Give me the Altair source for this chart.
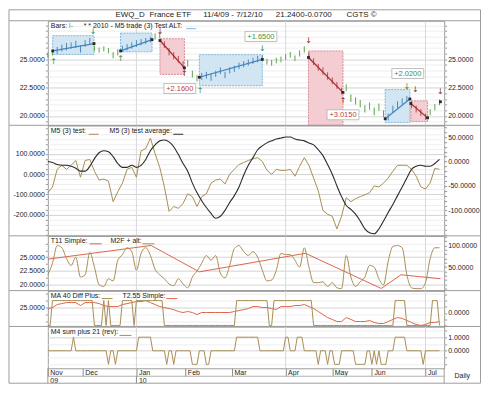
import json
import altair as alt
import pandas as pd

FONT = "Liberation Sans"
ARROW_FONT = "DejaVu Sans"
W = 398
H1, H2, H3, H4, H5 = 105, 111, 55, 36, 42
LC, RC = 39, 36.5
BORDER = "#9c9c9c"
TXT = "#222222"
TAN = "#a88d55"
RED = "#d9674c"
BLACK = "#2a2a2a"
GREEN = "#5fa347"
LONG_BAR = "#4f86b8"
SHORT_BAR = "#b84a50"
LONG_FILL = "#d2e5f3"
LONG_EDGE = "#86b6d8"
SHORT_FILL = "#f4cdd2"
SHORT_EDGE = "#d88e98"
LONG_LINE = "#3f86bd"
SHORT_LINE = "#a52a2a"
ARROW_LONG = "#2f8a3a"
ARROW_SHORT = "#8c1f1f"
LABEL_LONG = "#3d8f3d"
LABEL_SHORT = "#b5443c"

# ---------------- data ----------------
month_idx = [0, 15, 38, 59, 79, 102, 122, 139, 162]
month_names = ["Nov", "Dec", "Jan", "Feb", "Mar", "Apr", "May", "Jun", "Jul"]
year_names = ["09", "", "10", "", "", "", "", "", ""]
quarter_idx = [38, 102, 162]

day = list(range(0, 170, 2))

bar_low = [25.15, 25.35, 25.5, 25.7, 25.8, 25.95, 26.0, 25.6, 26.1, 26.3,
           25.75, 25.6, 25.7, 25.55, 25.1, 25.35, 25.65, 25.8, 25.95, 26.1,
           26.25, 26.35, 26.5, 26.75, 26.85, 26.0, 25.35, 25.0, 24.7, 24.2,
           24.35, 23.4, 23.05, 23.2, 23.3, 23.1, 23.45, 23.7, 23.35, 23.75,
           23.9, 24.15, 24.3, 24.45, 24.6, 24.75, 24.85, 24.55, 24.45, 24.65,
           24.75, 24.95, 25.15, 24.85, 25.25, 25.6, 25.0, 24.5, 24.0, 23.65,
           23.2, 22.8, 22.4, 21.9, 22.2, 21.25, 21.0, 20.75, 20.3, 20.55,
           20.05, 20.45, 19.9, 19.6, 20.3, 20.7, 21.0, 21.25, 20.7, 20.3,
           20.0, 19.65, 20.05, 20.5, 20.95]
bar_high = [25.6, 25.85, 26.1, 26.3, 26.45, 26.5, 26.65, 26.25, 26.7, 26.9,
            26.2, 26.05, 26.15, 26.0, 25.65, 25.9, 26.2, 26.35, 26.5, 26.7,
            26.8, 26.9, 27.0, 27.3, 27.35, 26.6, 26.0, 25.65, 25.3, 24.85,
            24.95, 24.0, 23.6, 23.8, 23.9, 23.75, 24.0, 24.3, 23.9, 24.3,
            24.45, 24.7, 24.85, 25.0, 25.15, 25.3, 25.35, 25.05, 24.95, 25.15,
            25.25, 25.45, 25.65, 25.35, 25.8, 26.15, 25.6, 25.1, 24.6, 24.3,
            23.85, 23.4, 23.0, 22.5, 22.8, 21.9, 21.65, 21.4, 20.95, 21.2,
            20.75, 21.1, 20.5, 20.2, 20.9, 21.3, 21.55, 21.75, 21.3, 20.9,
            20.6, 20.2, 20.6, 21.05, 21.45]

trade_side = ["L", "L", "S", "L", "S", "L", "S"]
trade_start = [2.1, 31.2, 48.1, 65, 111.8, 144.7, 155.7]
trade_end = [19.8, 44.7, 58.6, 92, 126.6, 155.3, 162.9]
box_low = [25.44, 25.67, 23.67, 22.67, 19.17, 19.42, 19.5]
box_high = [27.1, 27.33, 26.83, 25.42, 25.75, 22.33, 21.33]
entry_px = [25.75, 25.75, 26.67, 23.42, 25.17, 19.75, 21.1]
exit_px = [26.4, 26.75, 24.25, 25.0, 22.08, 21.5, 19.83]
last_mark_d = [168.4]
last_mark_p = [21.25]

arrow_d = [2.5, 19.4, 31.2, 48.1, 58.6, 65.3, 92, 111.8, 126.6, 154.0, 157.6, 168.4]
arrow_p = [24.8, 27.4, 25.0, 27.4, 23.75, 22.2, 25.9, 26.6, 21.3, 22.6, 22.3, 22.1]
arrow_dir = ["up", "down", "up", "down", "up", "up", "down", "down", "up", "down", "down", "down"]
arrow_side = ["L", "L", "L", "S", "S", "L", "L", "S", "S", "L", "S", "S"]

gain_text = ["+2.1600", "+1.6500", "+3.0150", "+2.0200"]
gain_d = [56.6, 91.4, 126.6, 154.4]
gain_p = [22.42, 27.02, 20.1, 23.75]
gain_side = ["S", "L", "S", "L"]

m5_test = [-92, -63, 24, 44, 24, 44, 68, -15, 68, 73,
           15, -29, -24, -34, -136, -87, -44, 24, 34, -15,
           116, 126, 179, 102, 34, -63, -184, -160, -169, -145,
           -97, -111, -160, -111, -97, -44, -29, -24, -48, 0,
           24, 48, 58, 68, 77, 82, 63, 19, 0, 24,
           19, 19, 24, -10, 39, 82, 44, -19, -82, -179,
           -198, -208, -271, -208, -116, -136, -121, -111, -102, -92,
           -58, -63, -44, -19, 15, 44, 44, 44, 24, -10,
           -63, -73, -44, 29, 24]
m5_avg = [63, 58, 48, 44, 44, 39, 29, 15, 15, 39,
          77, 106, 116, 111, 87, 53, 34, 34, 44, 34,
          44, 73, 116, 145, 165, 169, 160, 136, 97, 53,
          15, -44, -92, -131, -165, -194, -218, -208, -179, -140,
          -106, -63, -5, 44, 82, 121, 140, 155, 165, 174,
          179, 184, 184, 174, 169, 165, 155, 145, 121, 92,
          48, 0, -58, -111, -155, -174, -198, -232, -271, -290,
          -295, -271, -232, -189, -150, -106, -63, -19, 24, 39,
          44, 39, 39, 53, 73]

t11 = [32, 59, 100, 95, 70, 54, 73, 27, 32, 84,
       50, 9, 5, 23, 18, 66, 79, 95, 86, 43,
       82, 95, 77, 45, 32, 23, 11, 7, 23, 11,
       2, 27, 41, 59, 77, 66, 77, 36, 25, 54,
       93, 100, 86, 77, 86, 73, 43, 18, 20, 43,
       82, 79, 79, 66, 50, 95, 50, 14, 14, 16,
       5, 14, 2, 0, 77, 27, 5, 16, 27, 54,
       50, 23, 9, 64, 98, 100, 95, 32, 2, 0,
       0, 14, 70, 95, 95]
m2f_d = [0, 44.3, 65, 110.5, 143, 151.5, 168.4]
m2f_p = [24.64, 27.14, 22.32, 25.71, 19.29, 21.79, 21.07]

t255 = [24.82, 25.0, 25.54, 25.71, 25.89, 25.89, 25.89, 25.36, 25.89, 25.89,
        25.89, 25.71, 25.36, 25.18, 25.18, 25.18, 25.54, 25.71, 25.89, 26.07,
        26.07, 26.25, 25.89, 25.54, 25.18, 25.0, 24.82, 24.64, 24.29, 24.11,
        24.29, 24.11, 23.75, 24.11, 24.11, 24.11, 24.11, 24.11, 24.11, 24.11,
        24.29, 24.46, 24.64, 24.82, 25.18, 25.18, 25.0, 25.0, 24.82, 24.64,
        25.18, 25.18, 25.18, 25.36, 25.36, 25.54, 25.18, 24.82, 24.29, 23.75,
        23.21, 22.86, 22.5, 22.5, 23.21, 22.86, 22.5, 22.5, 22.5, 22.68,
        22.32, 22.14, 22.14, 22.5, 22.86, 23.21, 23.04, 22.68, 22.32, 21.96,
        21.79, 21.96, 22.32, 22.32, 22.5]

ma40_start = [0, 2, 20, 24, 25, 26, 27, 32, 37, 38, 50, 81, 95, 97, 114, 149, 154, 165, 168]
ma40_state = [-1, 1, -1, 1, -1, 1, -1, 1, -1, 1, -1, 1, -1, 1, -1, 1, -1, 1, -1]
m4_start = [0, 11, 12, 26, 27, 29, 30, 39, 45, 51, 52, 54, 55, 62, 65, 68, 70, 81, 91, 102,
            104, 107, 110, 116, 117, 120, 121, 123, 126, 132, 137, 139, 140, 141, 142, 143, 146, 149, 154, 161,
            162]
m4_state = [0, 1, 0, -1, 0, -1, 0, 1, 0, -1, 0, -1, 0, -1, 0, -1, 0, 1, 0, 1,
            0, 1, 0, -1, 0, -1, 0, -1, 0, -1, 0, -1, 0, -1, 0, -1, 0, 1, 0, -1,
            0]
LAST_DAY = 168

# ---------------- tables ----------------
def expand(starts, states, last):
    out, k = [], 0
    for d in range(last + 1):
        while k + 1 < len(starts) and starts[k + 1] <= d:
            k += 1
        out.append(states[k])
    return out


def zone(d):
    for s, a, b in zip(trade_side, trade_start, trade_end):
        if a <= d <= b:
            return LONG_BAR if s == "L" else SHORT_BAR
    return GREEN


bars_df = pd.DataFrame({"d": day, "lo": bar_low, "hi": bar_high,
                        "col": [zone(d) for d in day]})
trades_df = pd.DataFrame({
    "x0": trade_start, "x1": trade_end, "b0": box_low, "b1": box_high,
    "l0": entry_px, "l1": exit_px,
    "fill": [LONG_FILL if s == "L" else SHORT_FILL for s in trade_side],
    "edge": [LONG_EDGE if s == "L" else SHORT_EDGE for s in trade_side],
    "line": [LONG_LINE if s == "L" else SHORT_LINE for s in trade_side],
})
ends_df = pd.DataFrame({"d": trade_start + trade_end + last_mark_d,
                        "p": entry_px + exit_px + last_mark_p})
arrows_df = pd.DataFrame({
    "d": arrow_d, "p": arrow_p,
    "g": ["\u2191" if a == "up" else "\u2193" for a in arrow_dir],
    "c": [ARROW_LONG if s == "L" else ARROW_SHORT for s in arrow_side],
})
gain_df = pd.DataFrame({"d": gain_d, "p": gain_p, "t": gain_text,
                        "c": [LABEL_LONG if s == "L" else LABEL_SHORT for s in gain_side]})
osc_df = pd.DataFrame({"d": day, "m5": m5_test, "avg": m5_avg, "t11": t11, "t255": t255})
m2f_df = pd.DataFrame({"d": m2f_d, "p": m2f_p})
steps_df = pd.DataFrame({"d": list(range(LAST_DAY + 1)),
                         "ma40": expand(ma40_start, ma40_state, LAST_DAY),
                         "m4": expand(m4_start, m4_state, LAST_DAY)})
q_df = pd.DataFrame({"d": quarter_idx})
jan_df = pd.DataFrame({"d": [month_idx[2]]})

# ---------------- helpers ----------------
xsc = alt.Scale(domain=[0, 170], nice=False, zero=False)
X = alt.X("d:Q", scale=xsc, axis=None, title=None)

entries = [[m, y] if y else m for m, y in zip(month_names, year_names)]
x_expr = "%s[indexof(%s, datum.value)]" % (json.dumps(entries), json.dumps(month_idx))
x_axis = alt.Axis(orient="bottom", values=month_idx, labelExpr=x_expr, title=None, grid=False,
                  domain=False, tickSize=8, tickColor="#8a8a8a", labelAlign="left",
                  labelBaseline="top", labelPadding=-7.5, labelOffset=2, labelLineHeight=8,
                  labelOverlap=False, labelFlush=False, labelFont=FONT, labelFontSize=7,
                  labelColor=TXT)
XB = alt.X("d:Q", scale=xsc, axis=x_axis, title=None)


def ysc(lo, hi):
    return alt.Scale(domain=[lo, hi], nice=False, zero=False)


def yaxis(orient, ticks, labels, grid):
    test = "indexof(%s, datum.value) >= 0" % json.dumps(labels)
    kw = dict(orient=orient, values=ticks, title=None, grid=grid,
              labelExpr="%s ? replace(format(datum.value, '.4f'), '\u2212', '-') : ''" % test,
              labelOverlap=False, labelFlush=False, domain=False, tickSize=2.5, labelPadding=1,
              tickColor="#9a9a9a", labelFont=FONT, labelFontSize=7, labelColor=TXT)
    if grid:
        kw["gridColor"] = {"condition": {"test": test, "value": "#d4d4d4"}, "value": "#eeeeee"}
        kw["gridWidth"] = 1
    return alt.Axis(**kw)


def steps(a, b, s):
    out, v = [], a
    while v <= b + 1e-9:
        out.append(round(v, 4))
        v += s
    return out


def blank():
    return alt.Data(values=[{}])


def txt(s, x, y, color=TXT, size=7, align="left"):
    return alt.Chart(blank()).mark_text(text=s, align=align, baseline="middle", fontSize=size,
                                        font=FONT, color=color).encode(x=alt.value(x), y=alt.value(y))


def hline(x1, x2, y, color=BORDER, w=1):
    return alt.Chart(blank()).mark_rule(color=color, strokeWidth=w).encode(
        x=alt.value(x1), x2=alt.value(x2), y=alt.value(y))


def vline(x, y1, y2, color=BORDER, w=1):
    return alt.Chart(blank()).mark_rule(color=color, strokeWidth=w).encode(
        x=alt.value(x), y=alt.value(y1), y2=alt.value(y2))


def frame(top, bottom):
    return [hline(-LC, W + RC, 0), vline(-LC, top, bottom), vline(W + RC, top, bottom)]


def qrules(xdef=X):
    return alt.Chart(q_df).mark_rule(color="#d9d9d9", strokeWidth=1).encode(x=xdef)


def ghost(scale, axis, v):
    return alt.Chart(alt.Data(values=[{"v": v}])).mark_point(opacity=0).encode(
        y=alt.Y("v:Q", scale=scale, axis=axis, title=None))


# ---------------- panel 1: price ----------------
sc1 = ysc(19.17, 28.42)
t1 = steps(19.5, 28.0, 0.5)
ax1L = yaxis("left", t1, [20, 22.5, 25], True)
ax1R = yaxis("right", t1, [20, 22.5, 25], False)


def Y1(f):
    return alt.Y(f + ":Q", scale=sc1, axis=ax1L, title=None)


XT0 = alt.X("x0:Q", scale=xsc, axis=None, title=None)
p1_layers = [
    qrules(),
    alt.Chart(trades_df).mark_rect(strokeWidth=1, strokeDash=[2, 1]).encode(
        x=XT0, x2="x1:Q", y=Y1("b0"), y2="b1:Q",
        fill=alt.Fill("fill:N", scale=None), stroke=alt.Stroke("edge:N", scale=None)),
    alt.Chart(bars_df).mark_rule(strokeWidth=1).encode(
        x=X, y=Y1("lo"), y2="hi:Q", color=alt.Color("col:N", scale=None)),
    alt.Chart(trades_df).mark_rule(strokeWidth=1.2).encode(
        x=XT0, x2="x1:Q", y=Y1("l0"), y2="l1:Q", color=alt.Color("line:N", scale=None)),
    alt.Chart(ends_df).mark_square(size=8, opacity=1, color=BLACK).encode(x=X, y=Y1("p")),
    alt.Chart(arrows_df).mark_text(font=ARROW_FONT, fontSize=8, baseline="middle").encode(
        x=X, y=Y1("p"), text="g:N", color=alt.Color("c:N", scale=None)),
    alt.Chart(gain_df).mark_point(shape="M-1.6,-0.5H1.6V0.5H-1.6Z", size=400, filled=True,
                                  fill="white", stroke="#b0b0b0", strokeWidth=0.8,
                                  opacity=1).encode(x=X, y=Y1("p")),
    alt.Chart(gain_df).mark_text(font=FONT, fontSize=7.5, baseline="middle").encode(
        x=X, y=Y1("p"), text="t:N", color=alt.Color("c:N", scale=None)),
    txt("Bars:", 3, 5), txt("I-", 21, 5, GREEN),
    txt("* * 2010 - M5 trade (3) Test ALT:", 36, 5), hline(139, 149, 8, LONG_EDGE),
    hline(-LC, W + RC, -11),
    txt("EWQ_D", 68, -5.5, size=8), txt("France ETF", 102, -5.5, size=8),
    txt("11/4/09 - 7/12/10", 156, -5.5, size=8), txt("21.2400", 229, -5.5, size=8),
    txt("-0.0700", 258, -5.5, size=8), txt("CGTS \u00a9", 300, -5.5, size=8),
] + frame(-11, H1)
p1 = alt.layer(alt.layer(*p1_layers), ghost(sc1, ax1R, 25)).resolve_scale(
    y="independent").properties(width=W, height=H1)

# ---------------- panel 2: M5 ----------------
sc2L = ysc(-305, 242)
sc2R = ysc(-152, 74)
ax2L = yaxis("left", steps(-300, 225, 25), [-200, -100, 0, 100], True)
ax2R = yaxis("right", steps(-150, 70, 10), [-100, -50, 0, 50], False)


def Y2(f):
    return alt.Y(f + ":Q", scale=sc2L, axis=ax2L, title=None)


p2_layers = [
    qrules(),
    alt.Chart(osc_df).mark_line(color=TAN, strokeWidth=1).encode(x=X, y=Y2("m5")),
    alt.Chart(osc_df).mark_line(color=BLACK, strokeWidth=1.1, interpolate="monotone").encode(
        x=X, y=Y2("avg")),
    txt("M5 (3) test:", 3, 6), hline(41, 51, 9, TAN),
    txt("M5 (3) test average:", 62, 6), hline(126, 136, 9, BLACK),
] + frame(0, H2)
p2 = alt.layer(alt.layer(*p2_layers), ghost(sc2R, ax2R, 0)).resolve_scale(
    y="independent").properties(width=W, height=H2)

# ---------------- panel 3: T11 / M2F ----------------
sc3L = ysc(18.9, 28.9)
sc3R = ysc(-4.5, 122.7)
ax3L = yaxis("left", steps(20, 27.5, 1.25), [20, 22.5, 25], True)
ax3R = yaxis("right", steps(0, 120, 10), [50, 100], False)
p3_left = [
    qrules(),
    alt.Chart(m2f_df).mark_line(color=RED, strokeWidth=1).encode(
        x=X, y=alt.Y("p:Q", scale=sc3L, axis=ax3L, title=None)),
    txt("T11 Simple:", 3, 5), hline(42, 54, 8, RED),
    txt("M2F + alt:", 63, 5), hline(95, 107, 8, TAN),
] + frame(0, H3)
p3_right = alt.Chart(osc_df).mark_line(color=TAN, strokeWidth=1, interpolate="monotone").encode(
    x=X, y=alt.Y("t11:Q", scale=sc3R, axis=ax3R, title=None))
p3 = alt.layer(alt.layer(*p3_left), p3_right).resolve_scale(
    y="independent").properties(width=W, height=H3)

# ---------------- panel 4: MA 40 / T2.55 ----------------
sc4L = ysc(21.61, 28.04)
sc4R = ysc(-1.08, 1.8)
ax4L = yaxis("left", steps(22.5, 27.5, 1.25), [25], True)
ax4R = yaxis("right", steps(-1, 1.5, 0.5), [0], False)
p4_left = [
    qrules(),
    alt.Chart(osc_df).mark_line(color=RED, strokeWidth=1).encode(
        x=X, y=alt.Y("t255:Q", scale=sc4L, axis=ax4L, title=None)),
    txt("MA 40 Diff Plus:", 3, 5), hline(54, 65, 8, TAN),
    txt("T2.55 Simple:", 75, 5), hline(119, 130, 8, RED),
] + frame(0, H4)
p4_right = alt.Chart(steps_df).mark_line(color=TAN, strokeWidth=1).encode(
    x=X, y=alt.Y("ma40:Q", scale=sc4R, axis=ax4R, title=None))
p4 = alt.layer(alt.layer(*p4_left), p4_right).resolve_scale(
    y="independent").properties(width=W, height=H4)

# ---------------- panel 5: M4 + date axis ----------------
sc5 = ysc(-1.29, 1.79)
ax5 = yaxis("right", steps(-1, 1.5, 0.5), [0, 1], True)
p5_layers = [
    qrules(XB),
    alt.Chart(steps_df).mark_line(color=TAN, strokeWidth=1).encode(
        x=XB, y=alt.Y("m4:Q", scale=sc5, axis=ax5, title=None)),
    txt("M4 sum plus 21 (rev):", 3, 6), hline(72, 84, 9, TAN),
    hline(0, W, H5 + 8, "#b0b0b0"), vline(0, H5, H5 + 15), vline(W, H5, H5 + 15),
    alt.Chart(jan_df).mark_rule(color="#8a8a8a").encode(
        x=XB, y=alt.value(H5 + 8), y2=alt.value(H5 + 15)),
    hline(-LC, W + RC, H5 + 15),
    txt("Daily", W + RC / 2, H5 + 8, align="center"),
] + frame(0, H5 + 15)
p5 = alt.layer(*p5_layers).properties(width=W, height=H5)

chart = alt.vconcat(p1, p2, p3, p4, p5, spacing=0, bounds="flush", padding=0,
                    background="white").configure_view(stroke=BORDER, strokeWidth=1)

chart.save("out.html", embed_options={"renderer": "svg", "actions": False})
